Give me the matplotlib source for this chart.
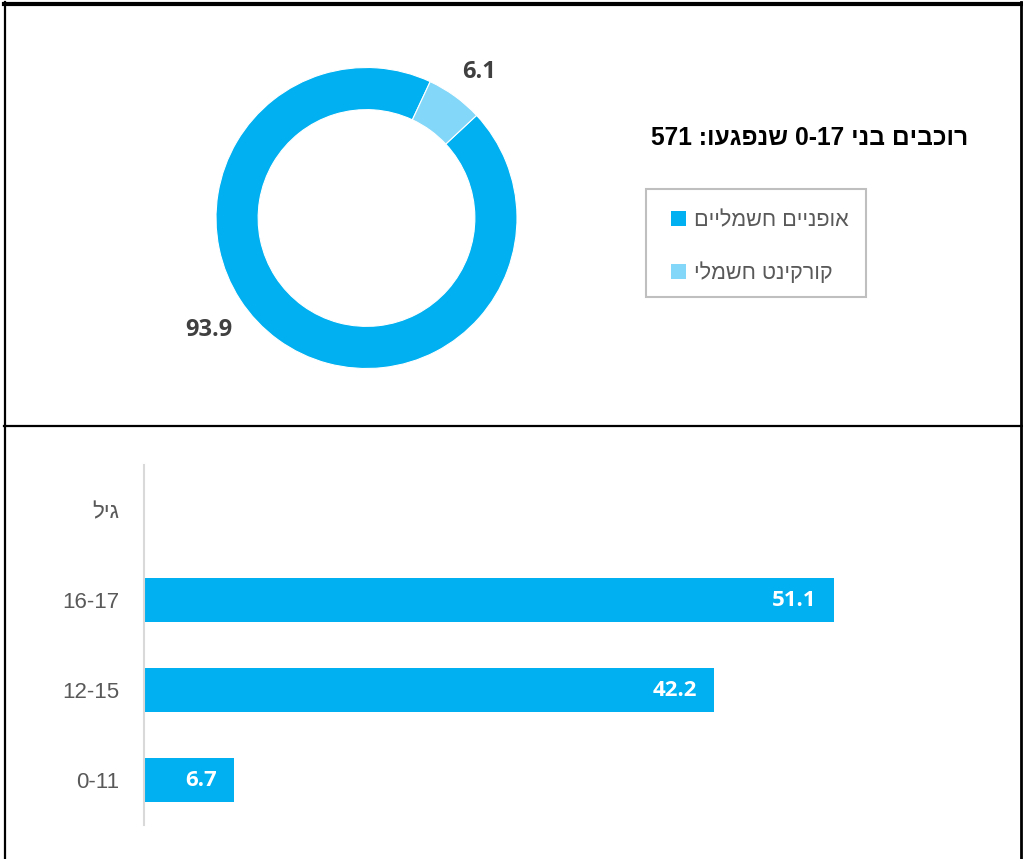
import re
import matplotlib
matplotlib.use("Agg")
import matplotlib.pyplot as plt
from matplotlib.lines import Line2D
from matplotlib.patches import Patch, Rectangle

# ---------------- data ----------------
donut_labels = ["אופניים חשמליים", "קורקינט חשמלי"]
donut_values = [93.9, 6.1]
total_riders = 571
title_text = "רוכבים בני 0-17 שנפגעו: {}".format(total_riders)

age_groups = ["0-11", "12-15", "16-17"]
age_values = [6.7, 42.2, 51.1]
age_header = "גיל"

# ---------------- style ----------------
DARK = "#00B0F0"
LIGHT = "#83D7F8"
GRAY_TXT = "#595959"
LABEL_TXT = "#404040"
HEB = ["Liberation Sans", "DejaVu Sans"]
NUM = ["Open Sans", "DejaVu Sans"]

W, H = 1023, 859


def rtl(s):
    """Visual (left-to-right) ordering for an RTL Hebrew string."""
    r = s[::-1]
    return re.sub(r"[0-9][0-9.\-]*[0-9]|[0-9]", lambda m: m.group(0)[::-1], r)


def fx(x):
    return x / W


def fy(y):
    return 1 - y / H


fig = plt.figure(figsize=(W / 100, H / 100), dpi=100)
fig.patch.set_facecolor("white")

# ---------------- panel borders ----------------
fig.add_artist(Line2D([fx(5), fx(5)], [fy(2), fy(H)], color="black", lw=1.6))
fig.add_artist(Line2D([fx(1020.7), fx(1020.7)], [fy(2), fy(H)], color="black", lw=2.0))
fig.add_artist(Line2D([fx(4), fx(1022)], [fy(4), fy(4)], color="black", lw=3.0))
fig.add_artist(Line2D([fx(4), fx(1022)], [fy(426), fy(426)], color="black", lw=1.6))

# ---------------- donut ----------------
cx, cy, R = 366.5, 218, 150.5
ax1 = fig.add_axes([fx(cx - R), fy(cy + R), 2 * R / W, 2 * R / H])
wedges, _ = ax1.pie(donut_values, colors=[DARK, LIGHT], startangle=43,
                    counterclock=False, radius=1.0,
                    wedgeprops=dict(width=0.28, edgecolor="white", linewidth=0.8))
ax1.set_xlim(-1, 1)
ax1.set_ylim(-1, 1)
ax1.set_aspect("equal")
ax1.axis("off")

ax1.text(-1.047, -0.744, f"{donut_values[0]:.1f}", ha="center", va="center",
         fontsize=17, fontweight="bold", color=LABEL_TXT, family=NUM, clip_on=False)
ax1.text(0.748, 0.970, f"{donut_values[1]:.1f}", ha="center", va="center",
         fontsize=17, fontweight="bold", color=LABEL_TXT, family=NUM, clip_on=False)

fig.text(fx(968), fy(138), rtl(title_text), ha="right", va="center",
         fontsize=17.7, fontweight="bold", color="black", family=HEB)

# legend (frame drawn separately for exact placement)
fig.add_artist(Rectangle((fx(646), fy(297)), 220 / W, 108 / H, transform=fig.transFigure,
                         fill=False, edgecolor="#BFBFBF", linewidth=1.5))
handles = [Patch(facecolor=DARK, edgecolor="none"), Patch(facecolor=LIGHT, edgecolor="none")]
leg = fig.legend(handles, [rtl(t) for t in donut_labels], loc="center left",
                 bbox_to_anchor=(fx(671), fy(247)), frameon=False,
                 handlelength=0.68, handleheight=0.68,
                 handletextpad=0.38, labelspacing=1.45, borderpad=0, borderaxespad=0,
                 prop={"family": HEB, "size": 15.6})
for t in leg.get_texts():
    t.set_color(GRAY_TXT)

# ---------------- bars ----------------
left, right, top, bottom = 144, 954, 465, 825
ax2 = fig.add_axes([fx(left), fy(bottom), (right - left) / W, (bottom - top) / H])
pos = list(range(len(age_groups)))
bars = ax2.barh(pos, age_values, height=0.49, color=DARK)
ax2.set_xlim(0, 60)
ax2.set_ylim(-0.5, len(age_groups) + 0.5)
ax2.set_yticks(pos + [len(age_groups)])
ax2.set_yticklabels(age_groups + [rtl(age_header)], family=HEB, fontsize=16, color=GRAY_TXT)
ax2.tick_params(axis="y", length=0, pad=18)
ax2.set_xticks([])
for s in ["top", "right", "bottom"]:
    ax2.spines[s].set_visible(False)
ax2.spines["left"].set_color("#D9D9D9")
ax2.spines["left"].set_linewidth(1.5)

for b, v in zip(bars, age_values):
    ax2.annotate(f"{v:.1f}", xy=(b.get_width(), b.get_y() + b.get_height() / 2),
                 xytext=(-17, 0), textcoords="offset pixels", ha="right", va="center",
                 fontsize=16, fontweight="bold", color="white", family=NUM)

fig.savefig("out.png", dpi=100, facecolor="white")
